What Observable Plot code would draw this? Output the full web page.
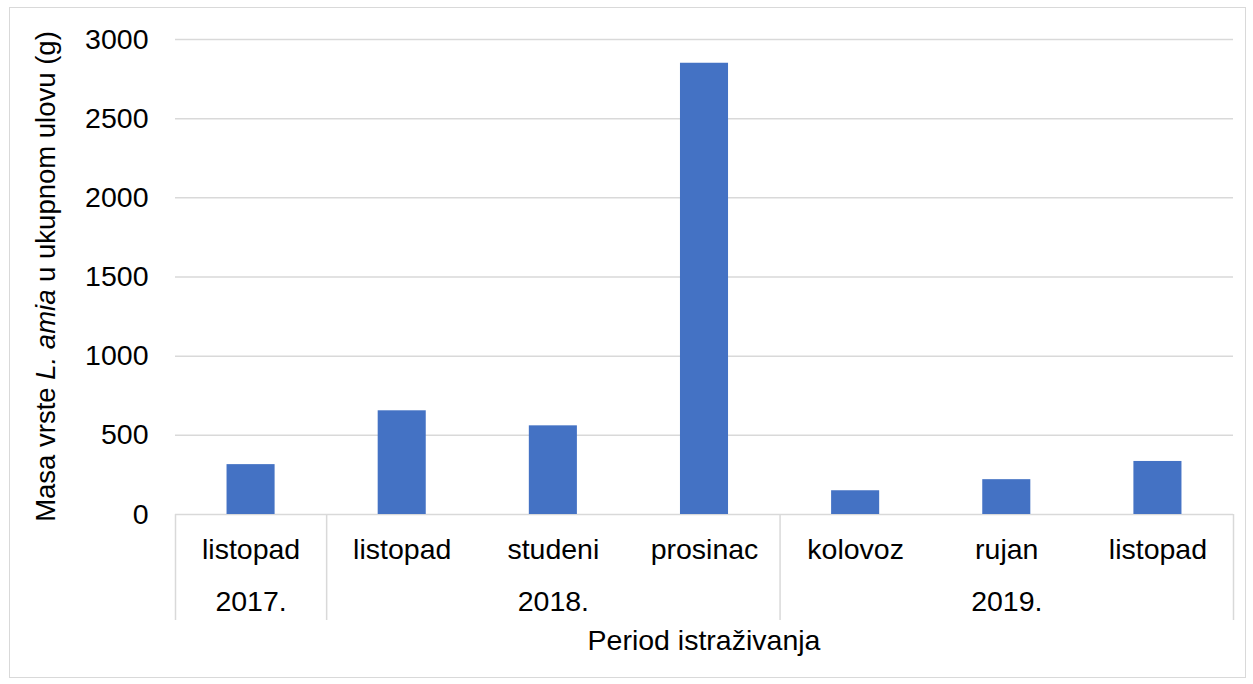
<!DOCTYPE html>
<html><head><meta charset="utf-8">
<script src="https://cdn.jsdelivr.net/npm/d3@7"></script>
<script src="https://cdn.jsdelivr.net/npm/@observablehq/plot@0.6"></script>
<style>
body{margin:0;background:#fff;}
#wrap{position:relative;width:1253px;height:684px;}
#border{position:absolute;left:9px;top:7px;width:1235px;height:669px;border:1px solid #d9d9d9;}
#chart{position:absolute;left:0;top:0;}
</style></head><body>
<div id="wrap"><div id="border"></div><div id="chart"></div></div>
<script>
const categories = ["listopad","listopad","studeni","prosinac","kolovoz","rujan","listopad"];
const years = ["2017.","2018.","2018.","2018.","2019.","2019.","2019."];
const values = [315, 655, 560, 2850, 150, 220, 335];
const yTicks = [0,500,1000,1500,2000,2500,3000];
const yTitleParts = ["Masa vrste ", "L. amia", " u ukupnom ulovu (g)"];
const xTitle = "Period istraživanja";

const data = categories.map((c,i)=>({i, category:c, year:years[i], value:values[i]}));
const groups = [];
years.forEach((y,i)=>{ const g = groups[groups.length-1]; if (g && g.year===y) g.end = i+1; else groups.push({year:y,start:i,end:i+1}); });
const boundaries = [0, ...groups.map(g=>g.end)];

const W=1253,H=684, mt=39, mb=170, ml=175, mr=20;
const fs = 28.5;
const font = "'Liberation Sans', Arial, sans-serif";
const plot = Plot.plot({
  width:W, height:H, marginTop:mt, marginBottom:mb, marginLeft:ml, marginRight:mr,
  style:{fontFamily:font, fontSize:fs+"px", color:"#000", background:"transparent", overflow:"visible"},
  x:{domain:[0,categories.length], axis:null},
  y:{domain:[0,3000], ticks:6, tickSize:0, tickPadding:27, label:null, tickFormat:d=>String(d)},
  marks:[
    Plot.ruleY(yTicks, {stroke:"#d9d9d9", strokeWidth:1.5, strokeOpacity:1}),
    Plot.rectY(data, {x1:d=>d.i+0.341, x2:d=>d.i+0.659, y:"value", fill:"#4472c4"}),
    Plot.ruleX(boundaries, {stroke:"#d9d9d9", strokeWidth:1.5, strokeOpacity:1, insetTop:H-mt-mb, insetBottom:-106}),
    Plot.text(data, {x:d=>d.i+0.5, y:()=>0, text:"category", dy:35, fill:"#000", fontSize:fs}),
    Plot.text(groups, {x:d=>(d.start+d.end)/2, y:()=>0, text:"year", dy:87, fill:"#000", fontSize:fs})
  ]
});
document.getElementById("chart").appendChild(plot);
const svg = d3.select(plot);
const yt = svg.append("text")
  .attr("transform", `translate(45,${(mt + H - mb)/2}) rotate(-90)`)
  .attr("text-anchor","middle").attr("dominant-baseline","central")
  .attr("font-family", font).attr("font-size", 27.5).attr("fill","#000");
yTitleParts.forEach((p,k)=>{ const s = yt.append("tspan").text(p); if (k===1) s.attr("font-style","italic"); });
svg.append("text").attr("x",(ml + W - mr)/2).attr("y",650)
  .attr("text-anchor","middle").attr("font-family",font).attr("font-size",fs).attr("fill","#000")
  .text(xTitle);
</script>
</body></html>
